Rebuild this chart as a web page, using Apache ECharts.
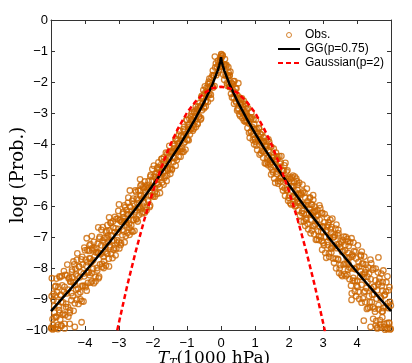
<!DOCTYPE html>
<html>
<head>
<meta charset="utf-8">
<script src="https://cdn.jsdelivr.net/npm/echarts@6/dist/echarts.min.js"></script>
<style>
  html, body { margin: 0; padding: 0; background: #fff; }
  #chart { width: 412px; height: 363px; }
</style>
</head>
<body>
<div id="chart"></div>
<script>
// generalized gaussian fit (p=0.75)
var ggX = [-5, -4.75, -4.5, -4.25, -4, -3.75, -3.5, -3.25, -3, -2.75, -2.5, -2.25, -2, -1.75, -1.5, -1.25, -1, -0.75, -0.5, -0.25, -0.1, -0.05, -0.02, 0,
           0.02, 0.05, 0.1, 0.25, 0.5, 0.75, 1, 1.25, 1.5, 1.75, 2, 2.25, 2.5, 2.75, 3, 3.25, 3.5, 3.75, 4, 4.25, 4.5, 4.75, 5];
var ggY = [-9.39, -9.08, -8.77, -8.45, -8.13, -7.80, -7.47, -7.13, -6.78, -6.43, -6.07, -5.70, -5.32, -4.93, -4.52, -4.10, -3.65, -3.17, -2.66, -2.07, -1.64, -1.46, -1.33, -1.2,
           -1.33, -1.46, -1.64, -2.07, -2.66, -3.17, -3.65, -4.10, -4.52, -4.93, -5.32, -5.70, -6.07, -6.43, -6.78, -7.13, -7.47, -7.80, -8.13, -8.45, -8.77, -9.08, -9.39];

// gaussian fit (p=2)
var gaussX = [-3.1, -3, -2.75, -2.5, -2.25, -2, -1.75, -1.5, -1.25, -1, -0.75, -0.5, -0.25, 0, 0.25, 0.5, 0.75, 1, 1.25, 1.5, 1.75, 2, 2.25, 2.5, 2.75, 3, 3.1];
var gaussY = [-10.26, -9.75, -8.53, -7.43, -6.42, -5.53, -4.74, -4.05, -3.47, -2.99, -2.63, -2.36, -2.20, -2.15, -2.20, -2.36, -2.63, -2.99, -3.47, -4.05, -4.74, -5.53, -6.42, -7.43, -8.53, -9.75, -10.26];

// observations, x < 0
var obsLeft = [
  [-0.005,-1.22],[-0.02,-1.28],[-0.04,-1.35],[-0.06,-1.62],[-0.08,-1.45],[-0.1,-1.70],[-0.12,-1.52],[-0.18,-1.18],[-0.03,-1.50],[-0.09,-1.32],[-0.15,-1.40],
  [-0.14,-1.78],[-0.17,-1.53],[-0.19,-2.13],[-0.22,-1.81],[-0.24,-1.63],[-0.26,-2.12],[-0.28,-1.86],[-0.30,-2.41],[-0.32,-2.15],[-0.34,-1.89],[-0.36,-2.43],[-0.37,-2.18],
  [-0.38,-2.07],[-0.40,-2.43],[-0.43,-2.32],[-0.45,-2.79],[-0.48,-2.37],[-0.50,-2.80],[-0.52,-2.26],[-0.54,-2.69],[-0.56,-2.91],[-0.58,-2.50],[-0.60,-3.21],[-0.62,-2.81],
  [-0.64,-3.11],[-0.67,-2.79],[-0.69,-3.36],[-0.72,-3.00],[-0.74,-2.79],[-0.76,-3.26],[-0.78,-2.98],[-0.80,-3.51],[-0.82,-3.24],[-0.84,-2.97],[-0.86,-3.50],[-0.87,-3.24],
  [-0.88,-3.11],[-0.90,-3.51],[-0.93,-3.36],[-0.95,-3.88],[-0.98,-3.38],[-1.00,-3.86],[-1.02,-3.22],[-1.04,-3.69],[-1.06,-3.93],[-1.08,-3.45],[-1.10,-4.25],[-1.12,-3.77],
  [-1.14,-4.15],[-1.17,-3.74],[-1.19,-4.41],[-1.22,-3.96],[-1.24,-3.70],[-1.26,-4.24],[-1.28,-3.90],[-1.30,-4.52],[-1.32,-4.18],[-1.34,-3.84],[-1.36,-4.46],[-1.37,-4.14],
  [-1.38,-4.00],[-1.40,-4.44],[-1.43,-4.27],[-1.45,-4.84],[-1.48,-4.26],[-1.50,-4.79],[-1.52,-4.06],[-1.54,-4.59],[-1.56,-4.85],[-1.58,-4.30],[-1.60,-5.19],[-1.62,-4.64],
  [-1.64,-5.04],[-1.67,-4.56],[-1.69,-5.31],[-1.72,-4.78],[-1.74,-4.48],[-1.76,-5.09],[-1.78,-4.69],[-1.80,-5.39],[-1.82,-4.99],[-1.84,-4.59],[-1.86,-5.30],[-1.87,-4.93],
  [-1.88,-4.79],[-1.90,-5.27],[-1.93,-5.07],[-1.95,-5.70],[-1.98,-5.05],[-2.00,-5.63],[-2.02,-4.81],[-2.04,-5.39],[-2.06,-5.67],[-2.08,-5.05],[-2.10,-6.03],[-2.12,-5.41],
  [-2.14,-5.85],[-2.17,-5.32],[-2.19,-6.14],[-2.22,-5.55],[-2.24,-5.21],[-2.26,-5.88],[-2.28,-5.43],[-2.30,-6.20],[-2.32,-5.76],[-2.34,-5.31],[-2.36,-6.08],[-2.37,-5.67],
  [-2.38,-5.51],[-2.40,-6.04],[-2.43,-5.81],[-2.45,-6.50],[-2.48,-5.77],[-2.50,-6.41],[-2.52,-5.50],[-2.54,-6.14],[-2.56,-6.44],[-2.58,-5.76],[-2.60,-6.83],[-2.62,-6.15],
  [-2.64,-6.62],[-2.67,-6.03],[-2.69,-6.93],[-2.72,-6.27],[-2.74,-5.90],[-2.76,-6.62],[-2.78,-6.13],[-2.80,-6.97],[-2.82,-6.48],[-2.84,-5.98],[-2.86,-6.82],[-2.87,-6.37],
  [-2.88,-6.20],[-2.90,-6.77],[-2.93,-6.51],[-2.95,-7.26],[-2.98,-6.46],[-3.00,-7.15],[-3.02,-6.16],[-3.04,-6.85],[-3.06,-7.18],[-3.08,-6.42],[-3.10,-7.59],[-3.12,-6.84],
  [-3.14,-7.36],[-3.17,-6.70],[-3.19,-7.68],[-3.22,-6.96],[-3.24,-6.55],[-3.26,-7.33],[-3.28,-6.79],[-3.30,-7.70],[-3.32,-7.16],[-3.34,-6.62],[-3.36,-7.53],[-3.37,-7.04],
  [-3.38,-6.85],[-3.40,-7.47],[-3.43,-7.18],[-3.45,-8.00],[-3.48,-7.11],[-3.50,-7.87],[-3.52,-6.77],[-3.54,-7.53],[-3.56,-7.88],[-3.58,-7.05],[-3.60,-8.33],[-3.62,-7.50],
  [-3.64,-8.08],[-3.67,-7.35],[-3.69,-8.43],[-3.72,-7.63],[-3.74,-7.16],[-3.76,-8.03],[-3.78,-7.43],[-3.80,-8.43],[-3.82,-7.83],[-3.84,-7.23],[-3.86,-8.23],[-3.87,-7.69],
  [-3.88,-7.45],[-3.90,-8.14],[-3.93,-7.81],[-3.95,-8.73],[-3.98,-7.73],[-4.00,-8.57],[-4.02,-7.34],[-4.04,-8.18],[-4.06,-8.58],[-4.08,-7.64],[-4.10,-9.07],[-4.12,-8.14],
  [-4.14,-8.78],[-4.17,-7.96],[-4.19,-9.16],[-4.22,-8.26],[-4.24,-7.74],[-4.26,-8.70],[-4.28,-8.02],[-4.30,-9.14],[-4.32,-8.46],[-4.34,-7.79],[-4.36,-8.91],[-4.37,-8.30],
  [-4.38,-8.05],[-4.40,-8.81],[-4.43,-8.44],[-4.45,-9.45],[-4.48,-8.34],[-4.50,-9.26],[-4.52,-7.89],[-4.54,-8.82],[-4.56,-9.26],[-4.58,-8.22],[-4.60,-9.80],[-4.62,-8.76],
  [-4.64,-9.47],[-4.67,-8.56],[-4.69,-9.87],[-4.72,-8.88],[-4.74,-8.30],[-4.76,-9.36],[-4.78,-8.61],[-4.80,-9.84],[-4.82,-9.09],[-4.84,-8.34],[-4.86,-9.57],[-4.87,-8.89],
  [-4.88,-8.61],[-4.90,-9.44],[-4.93,-9.03],[-4.95,-9.98],[-4.98,-8.91],[-4.99,-9.93],
  [-3.95,-7.04],[-3.8,-6.97],[-3.61,-6.69],[-3.29,-6.37],[-3.0,-5.95],[-2.68,-5.5],[-2.38,-5.14],
  [-4.95,-9.95],[-4.85,-9.9],[-4.7,-9.85],[-4.6,-9.95],[-4.45,-9.8],[-4.3,-9.9],[-4.1,-9.75],[-4.9,-9.6],[-4.75,-9.45],
  [-0.21,-1.78],[-0.23,-2.18],[-0.25,-1.78],[-0.275,-2.12],[-0.295,-2.53],[-0.32,-2.02],[-0.34,-2.37],[-0.36,-1.99],[-0.385,-2.64],[-0.405,-2.32],[-0.425,-2.19],[-0.445,-2.63],
  [-0.455,-2.62],[-0.475,-2.14],[-0.495,-2.85],[-0.52,-2.52],[-0.54,-2.71],[-0.565,-2.45],[-0.585,-3.17],[-0.605,-2.79],[-0.63,-2.68],[-0.65,-3.13],[-0.67,-2.89],[-0.69,-3.34],
  [-0.715,-2.88],[-0.74,-3.45],[-0.76,-3.11],[-0.785,-2.95],[-0.805,-3.38],[-0.83,-3.57],[-0.85,-3.21],[-0.87,-3.02],[-0.895,-3.50],[-0.915,-3.69],[-0.93,-3.18],[-0.95,-3.57],
  [-0.96,-3.46],[-0.98,-3.86],[-1.0,-3.23],[-1.025,-3.72],[-1.045,-4.18],[-1.07,-3.57],[-1.09,-3.97],[-1.11,-3.52],[-1.135,-4.25],[-1.155,-3.89],[-1.175,-3.73],[-1.195,-4.23],
  [-1.205,-4.17],[-1.225,-3.58],[-1.245,-4.41],[-1.27,-3.99],[-1.29,-4.20],[-1.315,-3.86],[-1.335,-4.70],[-1.355,-4.23],[-1.38,-4.06],[-1.40,-4.58],[-1.42,-4.28],[-1.44,-4.80],
  [-1.465,-4.24],[-1.49,-4.96],[-1.51,-4.50],[-1.535,-4.27],[-1.555,-4.80],[-1.58,-5.02],[-1.60,-4.54],[-1.62,-4.28],[-1.645,-4.86],[-1.665,-5.10],[-1.68,-4.43],[-1.70,-4.91],
  [-1.71,-4.77],[-1.73,-5.24],[-1.75,-4.48],[-1.775,-5.05],[-1.795,-5.58],[-1.82,-4.83],[-1.84,-5.30],[-1.86,-4.75],[-1.885,-5.61],[-1.905,-5.16],[-1.925,-4.96],[-1.945,-5.54],
  [-1.955,-5.42],[-1.975,-4.70],[-1.995,-5.69],[-2.02,-5.18],[-2.04,-5.41],[-2.065,-5.00],[-2.085,-5.98],[-2.105,-5.41],[-2.13,-5.20],[-2.15,-5.80],[-2.17,-5.44],[-2.19,-6.04],
  [-2.215,-5.38],[-2.24,-6.21],[-2.26,-5.66],[-2.285,-5.38],[-2.305,-5.99],[-2.33,-6.24],[-2.35,-5.66],[-2.37,-5.35],[-2.395,-6.02],[-2.415,-6.29],[-2.43,-5.50],[-2.45,-6.06],
  [-2.46,-5.91],[-2.48,-6.43],[-2.50,-5.55],[-2.525,-6.20],[-2.545,-6.80],[-2.57,-5.93],[-2.59,-6.46],[-2.61,-5.83],[-2.635,-6.80],[-2.655,-6.28],[-2.675,-6.03],[-2.695,-6.70],
  [-2.705,-6.57],[-2.725,-5.73],[-2.745,-6.86],[-2.77,-6.26],[-2.79,-6.52],[-2.815,-6.04],[-2.835,-7.17],[-2.855,-6.50],[-2.88,-6.25],[-2.90,-6.94],[-2.92,-6.51],[-2.94,-7.20],
  [-2.965,-6.44],[-2.99,-7.37],[-3.01,-6.74],[-3.035,-6.41],[-3.055,-7.10],[-3.08,-7.38],[-3.10,-6.72],[-3.12,-6.35],[-3.145,-7.11],[-3.165,-7.41],[-3.18,-6.50],[-3.20,-7.13],
  [-3.21,-6.95],[-3.23,-7.55],[-3.25,-6.54],[-3.275,-7.27],[-3.295,-7.95],[-3.32,-6.95],[-3.34,-7.54],[-3.36,-6.81],[-3.385,-7.92],[-3.405,-7.32],[-3.425,-7.03],[-3.445,-7.78],
  [-3.455,-7.64],[-3.475,-6.68],[-3.495,-7.96],[-3.52,-7.27],[-3.54,-7.56],[-3.565,-7.00],[-3.585,-8.28],[-3.605,-7.51],[-3.63,-7.22],[-3.65,-8.00],[-3.67,-7.50],[-3.69,-8.29],
  [-3.715,-7.41],[-3.74,-8.49],[-3.76,-7.75],[-3.785,-7.36],[-3.805,-8.16],[-3.83,-8.47],[-3.85,-7.70],[-3.87,-7.27],[-3.895,-8.14],[-3.915,-8.48],[-3.93,-7.42],[-3.95,-8.14],
  [-3.96,-7.93],[-3.98,-8.62],[-4.0,-7.43],[-4.025,-8.27],[-4.045,-9.08],[-4.07,-7.89],[-4.09,-8.58],[-4.11,-7.72],[-4.135,-9.01],[-4.155,-8.30],[-4.175,-7.95],[-4.195,-8.83],
  [-4.205,-8.67],[-4.225,-7.53],[-4.245,-9.03],[-4.27,-8.21],[-4.29,-8.55],[-4.315,-7.88],[-4.335,-9.38],[-4.355,-8.47],[-4.38,-8.12],[-4.40,-9.04],[-4.42,-8.44],[-4.44,-9.36],
  [-4.465,-8.31],[-4.49,-9.57],[-4.51,-8.70],[-4.535,-8.24],[-4.555,-9.16],[-4.58,-9.52],[-4.60,-8.61],[-4.62,-8.10],[-4.645,-9.11],[-4.665,-9.51],[-4.68,-8.26],[-4.70,-9.10],
  [-4.71,-8.86],[-4.73,-9.66],[-4.75,-8.27],[-4.775,-9.24],[-4.795,-9.97],[-4.82,-8.78],[-4.84,-9.58],[-4.86,-8.58],[-4.885,-9.95],[-4.905,-9.23],[-4.925,-8.83],[-4.945,-9.84],
  [-4.955,-9.65],[-4.975,-8.33],[-4.995,-9.94]
];

// observations, x >= 0
var obsRight = [
  [0,-1.18],[0.005,-1.25],[0.01,-1.12],[0.51,-2.04],
  [0.015,-1.41],[0.045,-1.16],[0.065,-1.76],[0.095,-1.44],[0.115,-1.26],[0.135,-1.75],[0.155,-1.49],[0.175,-2.04],[0.195,-1.78],[0.215,-1.52],[0.235,-2.06],[0.245,-1.81],
  [0.255,-1.78],[0.275,-2.14],[0.305,-2.03],[0.325,-2.50],[0.355,-2.08],[0.375,-2.51],[0.395,-1.97],[0.415,-2.40],[0.435,-2.62],[0.455,-2.21],[0.475,-2.92],[0.495,-2.52],
  [0.515,-2.85],[0.545,-2.53],[0.565,-3.10],[0.595,-2.74],[0.615,-2.53],[0.635,-3.00],[0.655,-2.72],[0.675,-3.25],[0.695,-2.98],[0.715,-2.71],[0.735,-3.24],[0.745,-2.98],
  [0.755,-2.87],[0.775,-3.27],[0.805,-3.12],[0.825,-3.64],[0.855,-3.14],[0.875,-3.62],[0.895,-2.98],[0.915,-3.45],[0.935,-3.69],[0.955,-3.21],[0.975,-4.01],[0.995,-3.53],
  [1.015,-3.93],[1.045,-3.52],[1.065,-4.19],[1.095,-3.74],[1.115,-3.48],[1.135,-4.02],[1.155,-3.68],[1.175,-4.30],[1.195,-3.96],[1.215,-3.62],[1.235,-4.24],[1.245,-3.92],
  [1.255,-3.79],[1.275,-4.23],[1.305,-4.06],[1.325,-4.63],[1.355,-4.05],[1.375,-4.58],[1.395,-3.85],[1.415,-4.38],[1.435,-4.64],[1.455,-4.09],[1.475,-4.98],[1.495,-4.43],
  [1.515,-4.84],[1.545,-4.36],[1.565,-5.11],[1.595,-4.58],[1.615,-4.28],[1.635,-4.89],[1.655,-4.49],[1.675,-5.19],[1.695,-4.79],[1.715,-4.39],[1.735,-5.10],[1.745,-4.73],
  [1.755,-4.59],[1.775,-5.07],[1.805,-4.87],[1.825,-5.50],[1.855,-4.85],[1.875,-5.43],[1.895,-4.61],[1.915,-5.19],[1.935,-5.47],[1.955,-4.85],[1.975,-5.83],[1.995,-5.21],
  [2.015,-5.66],[2.045,-5.13],[2.065,-5.95],[2.095,-5.36],[2.115,-5.02],[2.135,-5.69],[2.155,-5.24],[2.175,-6.01],[2.195,-5.57],[2.215,-5.12],[2.235,-5.89],[2.245,-5.48],
  [2.255,-5.32],[2.275,-5.85],[2.305,-5.62],[2.325,-6.31],[2.355,-5.58],[2.375,-6.22],[2.395,-5.31],[2.415,-5.95],[2.435,-6.25],[2.455,-5.57],[2.475,-6.64],[2.495,-5.96],
  [2.515,-6.44],[2.545,-5.85],[2.565,-6.75],[2.595,-6.09],[2.615,-5.72],[2.635,-6.44],[2.655,-5.95],[2.675,-6.79],[2.695,-6.30],[2.715,-5.80],[2.735,-6.64],[2.745,-6.19],
  [2.755,-6.02],[2.775,-6.59],[2.805,-6.33],[2.825,-7.08],[2.855,-6.28],[2.875,-6.97],[2.895,-5.98],[2.915,-6.67],[2.935,-7.00],[2.955,-6.24],[2.975,-7.41],[2.995,-6.66],
  [3.015,-7.19],[3.045,-6.53],[3.065,-7.51],[3.095,-6.79],[3.115,-6.38],[3.135,-7.16],[3.155,-6.62],[3.175,-7.53],[3.195,-6.99],[3.215,-6.45],[3.235,-7.36],[3.245,-6.87],
  [3.255,-6.68],[3.275,-7.30],[3.305,-7.01],[3.325,-7.83],[3.355,-6.94],[3.375,-7.70],[3.395,-6.60],[3.415,-7.36],[3.435,-7.71],[3.455,-6.88],[3.475,-8.16],[3.495,-7.33],
  [3.515,-7.91],[3.545,-7.18],[3.565,-8.26],[3.595,-7.46],[3.615,-6.99],[3.635,-7.86],[3.655,-7.26],[3.675,-8.26],[3.695,-7.66],[3.715,-7.06],[3.735,-8.06],[3.745,-7.52],
  [3.755,-7.29],[3.775,-7.98],[3.805,-7.65],[3.825,-8.57],[3.855,-7.57],[3.875,-8.41],[3.895,-7.18],[3.915,-8.02],[3.935,-8.42],[3.955,-7.48],[3.975,-8.91],[3.995,-7.98],
  [4.015,-8.62],[4.045,-7.80],[4.065,-9.00],[4.095,-8.10],[4.115,-7.58],[4.135,-8.54],[4.155,-7.86],[4.175,-8.98],[4.195,-8.30],[4.215,-7.63],[4.235,-8.75],[4.245,-8.14],
  [4.255,-7.89],[4.275,-8.65],[4.305,-8.28],[4.325,-9.29],[4.355,-8.18],[4.375,-9.10],[4.395,-7.73],[4.415,-8.66],[4.435,-9.10],[4.455,-8.06],[4.475,-9.64],[4.495,-8.60],
  [4.515,-9.31],[4.545,-8.40],[4.565,-9.71],[4.595,-8.72],[4.615,-8.14],[4.635,-9.20],[4.655,-8.45],[4.675,-9.68],[4.695,-8.93],[4.715,-8.18],[4.735,-9.41],[4.745,-8.73],
  [4.755,-8.46],[4.775,-9.29],[4.805,-8.88],[4.825,-9.99],[4.855,-8.76],[4.875,-9.78],[4.895,-8.27],[4.915,-9.29],[4.935,-9.76],[4.955,-8.62],[4.975,-9.98],[4.995,-9.21],
  [4.63,-7.66],[3.84,-7.04],[4.14,-7.47],[3.84,-9.03],[3.45,-6.77],[2.71,-5.65],
  [4.2,-9.7],[4.4,-9.9],[4.6,-9.95],[4.8,-9.9],[4.9,-9.95],[4.7,-9.92],[4.55,-9.85],
  [0.01,-1.10],[0.03,-1.52],[0.05,-1.14],[0.075,-1.50],[0.095,-1.93],[0.12,-1.44],[0.14,-1.81],[0.16,-1.45],[0.185,-2.12],[0.205,-1.82],[0.225,-1.70],[0.245,-2.16],
  [0.255,-2.15],[0.275,-1.67],[0.295,-2.38],[0.32,-2.05],[0.34,-2.24],[0.365,-1.98],[0.385,-2.70],[0.405,-2.32],[0.43,-2.21],[0.45,-2.66],[0.47,-2.42],[0.49,-2.87],
  [0.515,-2.47],[0.54,-3.04],[0.56,-2.70],[0.585,-2.54],[0.605,-2.97],[0.63,-3.16],[0.65,-2.80],[0.67,-2.61],[0.695,-3.09],[0.715,-3.28],[0.73,-2.77],[0.75,-3.16],
  [0.76,-3.08],[0.78,-3.48],[0.80,-2.85],[0.825,-3.34],[0.845,-3.80],[0.87,-3.19],[0.89,-3.59],[0.91,-3.14],[0.935,-3.87],[0.955,-3.51],[0.975,-3.35],[0.995,-3.85],
  [1.005,-3.81],[1.025,-3.22],[1.045,-4.05],[1.07,-3.63],[1.09,-3.84],[1.115,-3.50],[1.135,-4.34],[1.155,-3.87],[1.18,-3.70],[1.20,-4.22],[1.22,-3.92],[1.24,-4.44],
  [1.265,-3.90],[1.29,-4.62],[1.31,-4.16],[1.335,-3.93],[1.355,-4.46],[1.38,-4.68],[1.40,-4.20],[1.42,-3.94],[1.445,-4.52],[1.465,-4.76],[1.48,-4.09],[1.50,-4.57],
  [1.51,-4.44],[1.53,-4.91],[1.55,-4.15],[1.575,-4.72],[1.595,-5.25],[1.62,-4.50],[1.64,-4.97],[1.66,-4.42],[1.685,-5.28],[1.705,-4.83],[1.725,-4.63],[1.745,-5.21],
  [1.755,-5.11],[1.775,-4.39],[1.795,-5.38],[1.82,-4.87],[1.84,-5.10],[1.865,-4.69],[1.885,-5.67],[1.905,-5.10],[1.93,-4.89],[1.95,-5.49],[1.97,-5.13],[1.99,-5.73],
  [2.015,-5.08],[2.04,-5.91],[2.06,-5.36],[2.085,-5.08],[2.105,-5.69],[2.13,-5.94],[2.15,-5.36],[2.17,-5.05],[2.195,-5.72],[2.215,-5.99],[2.23,-5.20],[2.25,-5.76],
  [2.26,-5.61],[2.28,-6.13],[2.30,-5.25],[2.325,-5.90],[2.345,-6.50],[2.37,-5.63],[2.39,-6.16],[2.41,-5.53],[2.435,-6.50],[2.455,-5.98],[2.475,-5.73],[2.495,-6.40],
  [2.505,-6.28],[2.525,-5.44],[2.545,-6.57],[2.57,-5.97],[2.59,-6.23],[2.615,-5.75],[2.635,-6.88],[2.655,-6.21],[2.68,-5.96],[2.70,-6.65],[2.72,-6.22],[2.74,-6.91],
  [2.765,-6.16],[2.79,-7.09],[2.81,-6.46],[2.835,-6.13],[2.855,-6.82],[2.88,-7.10],[2.90,-6.44],[2.92,-6.07],[2.945,-6.83],[2.965,-7.13],[2.98,-6.22],[3.0,-6.85],
  [3.01,-6.67],[3.03,-7.27],[3.05,-6.26],[3.075,-6.99],[3.095,-7.67],[3.12,-6.67],[3.14,-7.26],[3.16,-6.53],[3.185,-7.64],[3.205,-7.04],[3.225,-6.75],[3.245,-7.50],
  [3.255,-7.37],[3.275,-6.41],[3.295,-7.69],[3.32,-7.00],[3.34,-7.29],[3.365,-6.73],[3.385,-8.01],[3.405,-7.24],[3.43,-6.95],[3.45,-7.73],[3.47,-7.23],[3.49,-8.02],
  [3.515,-7.14],[3.54,-8.22],[3.56,-7.48],[3.585,-7.09],[3.605,-7.89],[3.63,-8.20],[3.65,-7.43],[3.67,-7.00],[3.695,-7.87],[3.715,-8.21],[3.73,-7.15],[3.75,-7.87],
  [3.76,-7.67],[3.78,-8.36],[3.80,-7.17],[3.825,-8.01],[3.845,-8.82],[3.87,-7.63],[3.89,-8.32],[3.91,-7.46],[3.935,-8.75],[3.955,-8.04],[3.975,-7.69],[3.995,-8.57],
  [4.005,-8.41],[4.025,-7.27],[4.045,-8.77],[4.07,-7.95],[4.09,-8.29],[4.115,-7.62],[4.135,-9.12],[4.155,-8.21],[4.18,-7.86],[4.20,-8.78],[4.22,-8.18],[4.24,-9.10],
  [4.265,-8.06],[4.29,-9.32],[4.31,-8.45],[4.335,-7.99],[4.355,-8.91],[4.38,-9.27],[4.40,-8.36],[4.42,-7.85],[4.445,-8.86],[4.465,-9.26],[4.48,-8.01],[4.50,-8.85],
  [4.51,-8.61],[4.53,-9.41],[4.55,-8.02],[4.575,-8.99],[4.595,-9.92],[4.62,-8.53],[4.64,-9.33],[4.66,-8.33],[4.685,-9.82],[4.705,-8.98],[4.725,-8.58],[4.745,-9.59],
  [4.755,-9.40],[4.775,-8.08],[4.795,-9.81],[4.82,-8.86],[4.84,-9.24],[4.865,-8.46],[4.885,-9.97],[4.905,-9.14],[4.93,-8.72],[4.95,-9.78],[4.97,-9.09],[4.99,-9.96]
];

var xTicks = [-4, -3, -2, -1, 0, 1, 2, 3, 4];

function pairs(xs, ys) {
  var out = [];
  for (var i = 0; i < xs.length; i++) out.push([xs[i], ys[i]]);
  return out;
}
function minus(v) {
  return String(v).replace('-', '\u2212');
}

var chart = echarts.init(document.getElementById('chart'));

var tickStyle = { show: true, inside: true, length: 4, lineStyle: { color: '#333', width: 1 } };
var lineStyleAxis = { show: true, onZero: false, lineStyle: { color: '#333', width: 1 } };

var option = {
  animation: false,
  backgroundColor: '#fff',
  grid: { left: 51, right: 21, top: 20, bottom: 33, containLabel: false, outerBoundsMode: 'none' },
  legend: {
    orient: 'vertical',
    left: 272,
    top: 24,
    itemWidth: 22,
    itemHeight: 5,
    itemGap: 2,
    textStyle: { fontFamily: 'Liberation Sans', fontSize: 12, color: '#000' },
    data: [
      { name: 'Obs.', itemStyle: { borderWidth: 1 } },
      { name: 'GG(p=0.75)' },
      { name: 'Gaussian(p=2)' }
    ]
  },
  xAxis: [
    {
      type: 'value', min: -5, max: 5, interval: 1, position: 'bottom',
      axisLine: lineStyleAxis, axisTick: tickStyle, splitLine: { show: false },
      axisLabel: {
        margin: 7, fontFamily: 'Liberation Sans', fontSize: 13, color: '#000',
        formatter: function (v) { return xTicks.indexOf(v) >= 0 ? minus(v) : ''; }
      },
      name: '{i|T}{s|T}{n|(1000 hPa)}',
      nameLocation: 'middle',
      nameGap: 19,
      nameMoveOverlap: false,
      nameTextStyle: {
        padding: [0, 14, 0, 0],
        rich: {
          i: { fontFamily: 'DejaVu Serif', fontStyle: 'italic', fontSize: 17, color: '#000', lineHeight: 20 },
          s: { fontFamily: 'DejaVu Serif', fontStyle: 'italic', fontSize: 11, color: '#000', verticalAlign: 'bottom', lineHeight: 20 },
          n: { fontFamily: 'DejaVu Serif', fontSize: 17, color: '#000', lineHeight: 20 }
        }
      }
    },
    {
      type: 'value', min: -5, max: 5, interval: 1, position: 'top',
      axisLine: lineStyleAxis, axisTick: tickStyle, axisLabel: { show: false }, splitLine: { show: false }
    }
  ],
  yAxis: [
    {
      type: 'value', min: -10, max: 0, interval: 1, position: 'left',
      axisLine: lineStyleAxis, axisTick: tickStyle, splitLine: { show: false },
      axisLabel: {
        margin: 3, fontFamily: 'Liberation Sans', fontSize: 13, color: '#000',
        formatter: function (v) { return minus(v); }
      },
      name: 'log (Prob.)',
      nameLocation: 'middle',
      nameGap: 24,
      nameMoveOverlap: false,
      nameTextStyle: { fontFamily: 'DejaVu Serif', fontSize: 18, color: '#000' }
    },
    {
      type: 'value', min: -10, max: 0, interval: 1, position: 'right',
      axisLine: lineStyleAxis, axisTick: tickStyle, axisLabel: { show: false }, splitLine: { show: false }
    }
  ],
  series: [
    {
      name: 'Obs.',
      type: 'scatter',
      data: obsLeft.concat(obsRight),
      symbol: 'circle',
      symbolSize: 5.5,
      clip: true,
      silent: true,
      itemStyle: { color: 'rgba(255,255,255,0)', borderColor: '#cc6600', borderWidth: 1.3 }
    },
    {
      name: 'GG(p=0.75)',
      type: 'line',
      data: pairs(ggX, ggY),
      symbol: 'none',
      clip: true,
      silent: true,
      itemStyle: { color: '#000', opacity: 0 },
      lineStyle: { color: '#000', width: 2.5 }
    },
    {
      name: 'Gaussian(p=2)',
      type: 'line',
      data: pairs(gaussX, gaussY),
      symbol: 'none',
      clip: true,
      silent: true,
      itemStyle: { color: '#ff0000', opacity: 0 },
      lineStyle: { color: '#ff0000', width: 2.5, type: [5, 3] }
    }
  ]
};

chart.setOption(option);
</script>
</body>
</html>
